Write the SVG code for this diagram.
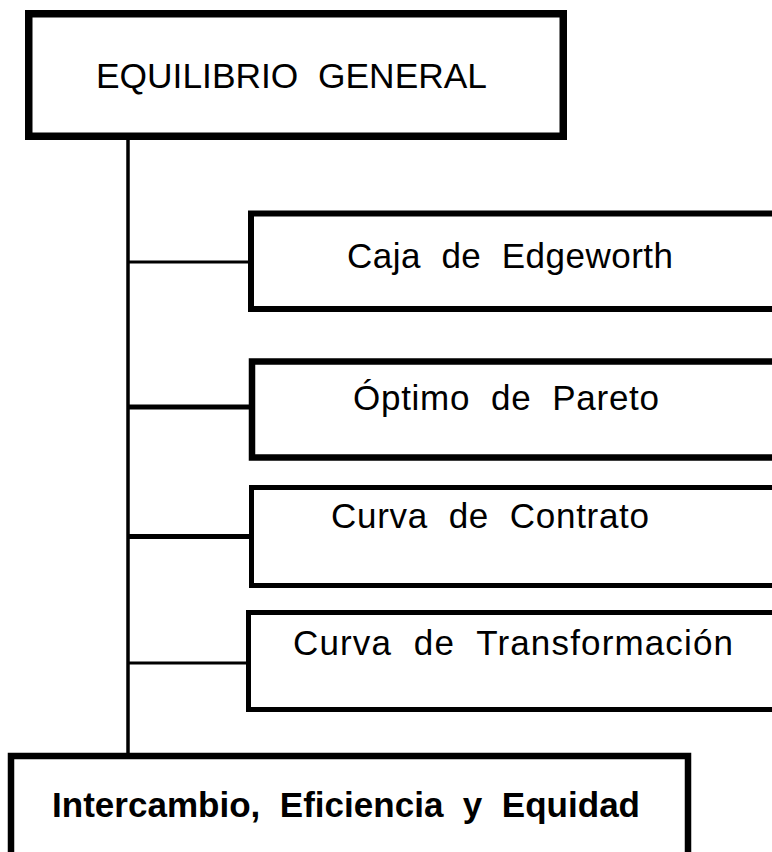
<svg xmlns="http://www.w3.org/2000/svg" width="772" height="852" viewBox="0 0 772 852">
<style>
.box{fill:#fff;stroke:#000}
.t{font-family:"Liberation Sans",Arial,sans-serif;font-size:35px;fill:#000;white-space:pre}
.c{stroke:#000;fill:none}
</style>
<rect width="772" height="852" fill="#fff"/>
<g id="connectors">
<line class="c" x1="128" y1="140" x2="128" y2="754" stroke-width="3.5"/>
<line class="c" x1="128" y1="262" x2="250" y2="262" stroke-width="3"/>
<line class="c" x1="128" y1="407" x2="250" y2="407" stroke-width="5"/>
<line class="c" x1="128" y1="536.5" x2="250" y2="536.5" stroke-width="5"/>
<line class="c" x1="128" y1="663" x2="247" y2="663" stroke-width="3"/>
</g>
<g id="node-equilibrio">
<rect class="box" x="28.75" y="13.75" width="534.5" height="122.5" stroke-width="7.5"/>
<text class="t" x="96" y="88" textLength="391" lengthAdjust="spacingAndGlyphs" xml:space="preserve">EQUILIBRIO  GENERAL</text>
</g>
<g id="node-caja">
<rect class="box" x="251" y="213.5" width="560" height="95.5" stroke-width="6"/>
<text class="t" x="347" y="268" textLength="326" lengthAdjust="spacing" xml:space="preserve">Caja  de  Edgeworth</text>
</g>
<g id="node-pareto">
<rect class="box" x="252" y="361.5" width="560" height="96" stroke-width="6.5"/>
<text class="t" x="353" y="410" textLength="306" lengthAdjust="spacing" xml:space="preserve">Óptimo  de  Pareto</text>
</g>
<g id="node-contrato">
<rect class="box" x="251.5" y="487.5" width="560" height="98" stroke-width="5"/>
<text class="t" x="331" y="528" textLength="318" lengthAdjust="spacing" xml:space="preserve">Curva  de  Contrato</text>
</g>
<g id="node-transformacion">
<rect class="box" x="248.5" y="612.5" width="560" height="97" stroke-width="5"/>
<text class="t" x="293" y="655" textLength="440" lengthAdjust="spacing" xml:space="preserve">Curva  de  Transformación</text>
</g>
<g id="node-intercambio">
<rect class="box" x="11" y="756" width="677" height="120" stroke-width="6.5"/>
<text class="t" x="52" y="817" textLength="588" lengthAdjust="spacing" font-size="33" font-weight="bold" xml:space="preserve">Intercambio,  Eficiencia  y  Equidad</text>
</g>
</svg>
